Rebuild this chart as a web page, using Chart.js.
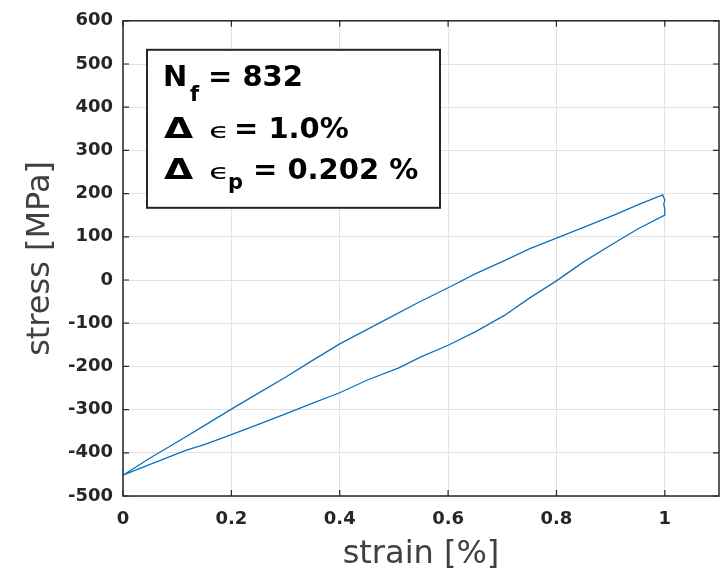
<!DOCTYPE html>
<html>
<head>
<meta charset="utf-8">
<script src="https://cdn.jsdelivr.net/npm/chart.js@4.4.0/dist/chart.umd.min.js"></script>
<style>
  html, body { margin: 0; padding: 0; background: #fff; }
  #wrap { width: 724px; height: 575px; }
</style>
</head>
<body>
<div id="wrap"><canvas id="loop"></canvas></div>
<script>
// upper branch: from the compressive tip up to the tensile peak
const strainUpper = [0, 0.05, 0.1, 0.15, 0.2, 0.25, 0.3, 0.35, 0.4, 0.45, 0.5, 0.545, 0.6, 0.65, 0.704, 0.75, 0.8, 0.85, 0.906, 0.95, 0.996];
const stressUpper = [-452, -412, -375, -337, -299, -262, -225, -186, -148, -115, -82, -52, -18, 14, 45, 72, 97, 122, 150, 174, 197];
// small kink at the tensile tip
const strainTip = [1.0, 0.998, 1.0, 1.0];
const stressTip = [185, 175, 165, 150];
// lower branch: back down to the compressive tip
const strainLower = [0.95, 0.906, 0.85, 0.8, 0.75, 0.704, 0.65, 0.6, 0.55, 0.508, 0.45, 0.4, 0.35, 0.3, 0.25, 0.2, 0.15, 0.117, 0.05, 0];
const stressLower = [118, 85, 42, -2, -42, -82, -120, -151, -178, -204, -232, -261, -285, -310, -334, -358, -381, -394, -427, -452];

const xTicks = [0, 0.2, 0.4, 0.6, 0.8, 1];
const xTickLabels = ["0", "0.2", "0.4", "0.6", "0.8", "1"];
const yTicks = [-500, -400, -300, -200, -100, 0, 100, 200, 300, 400, 500, 600];

const strainAll = strainUpper.concat(strainTip, strainLower);
const stressAll = stressUpper.concat(stressTip, stressLower);
const points = strainAll.map((s, i) => ({ x: s, y: stressAll[i] }));

const tickFont = { family: "DejaVu Sans", size: 18, weight: "bold" };
const titleFont = { family: "DejaVu Sans", size: 32 };

// frame with inward ticks on all four sides
const framePlugin = {
  id: "frame",
  afterDatasetsDraw(chart) {
    const { ctx, chartArea: a, scales } = chart;
    const len = 6;
    ctx.save();
    ctx.strokeStyle = "#262626";
    ctx.lineWidth = 1.5;
    ctx.strokeRect(a.left, a.top, a.right - a.left, a.bottom - a.top);
    ctx.lineWidth = 1.2;
    ctx.beginPath();
    xTicks.forEach(v => {
      const px = scales.x.getPixelForValue(v);
      ctx.moveTo(px, a.bottom); ctx.lineTo(px, a.bottom - len);
      ctx.moveTo(px, a.top); ctx.lineTo(px, a.top + len);
    });
    yTicks.forEach(v => {
      const py = scales.y.getPixelForValue(v);
      ctx.moveTo(a.left, py); ctx.lineTo(a.left + len, py);
      ctx.moveTo(a.right, py); ctx.lineTo(a.right - len, py);
    });
    ctx.stroke();
    ctx.restore();
  }
};

// draw text stretched horizontally (the figure is a bit wide)
function wideText(ctx, txt, x, y, sx) {
  ctx.save();
  ctx.translate(x, y);
  ctx.scale(sx, 1);
  ctx.fillText(txt, 0, 0);
  ctx.restore();
}

// text box in the upper left
const notePlugin = {
  id: "note",
  afterDraw(chart) {
    const { ctx, chartArea: a } = chart;
    const bx = a.left + 24, by = a.top + 29, bw = 293, bh = 158;
    ctx.save();
    ctx.fillStyle = "#fff";
    ctx.fillRect(bx, by, bw, bh);
    ctx.strokeStyle = "#262626";
    ctx.lineWidth = 2;
    ctx.strokeRect(bx, by, bw, bh);

    ctx.fillStyle = "#000";
    ctx.textBaseline = "alphabetic";
    const big = "bold 29px 'DejaVu Sans'";
    const sub = "bold 21px 'DejaVu Sans'";
    const eps = "21px 'DejaVu Sans'";
    const x0 = bx + 16;

    ctx.font = big; ctx.fillText("N", x0, by + 36);
    ctx.font = sub; ctx.fillText("f", x0 + 27, by + 51);
    ctx.font = big; ctx.fillText("= 832", x0 + 45, by + 36);

    ctx.font = big; wideText(ctx, "\u0394", x0 + 1, by + 88, 1.3);
    ctx.font = eps; wideText(ctx, "\u03f5", x0 + 46, by + 88, 1.6);
    ctx.font = big; ctx.fillText("= 1.0%", x0 + 71, by + 88);

    ctx.font = big; wideText(ctx, "\u0394", x0 + 1, by + 129, 1.3);
    ctx.font = eps; wideText(ctx, "\u03f5", x0 + 46, by + 129, 1.6);
    ctx.font = sub; ctx.fillText("p", x0 + 65, by + 139);
    ctx.font = big; ctx.fillText("= 0.202 %", x0 + 90, by + 129);
    ctx.restore();
  }
};

new Chart(document.getElementById("loop"), {
  type: "scatter",
  data: {
    datasets: [{
      data: points,
      showLine: true,
      borderColor: "#0a72bd",
      borderWidth: 1.3,
      pointRadius: 0,
      tension: 0,
      fill: false
    }]
  },
  options: {
    responsive: true,
    maintainAspectRatio: false,
    animation: false,
    layout: { padding: { top: 15, right: 5, left: 0, bottom: 0 } },
    plugins: { legend: { display: false }, tooltip: { enabled: false } },
    scales: {
      x: {
        type: "linear",
        min: 0,
        max: 1.1,
        afterBuildTicks: s => { s.ticks = xTicks.map(v => ({ value: v })); },
        afterFit: s => { s.height = 79; },
        grid: { color: "#e3e3e3", lineWidth: 1, drawTicks: false },
        border: { display: false },
        ticks: {
          font: tickFont, color: "#262626", padding: 13, maxRotation: 0,
          callback: (v, i) => xTickLabels[i]
        },
        title: { display: true, text: "strain [%]", font: titleFont, color: "#404040", padding: { top: 0, bottom: 1 } }
      },
      y: {
        type: "linear",
        min: -500,
        max: 600,
        afterBuildTicks: s => { s.ticks = yTicks.map(v => ({ value: v })); },
        afterFit: s => { s.width = 123; },
        grid: { color: "#e3e3e3", lineWidth: 1, drawTicks: false },
        border: { display: false },
        ticks: { font: tickFont, color: "#262626", padding: 10 },
        title: { display: true, text: "stress [MPa]", font: titleFont, color: "#404040", padding: { top: 21, bottom: 0 } }
      }
    }
  },
  plugins: [framePlugin, notePlugin]
});
</script>
</body>
</html>
